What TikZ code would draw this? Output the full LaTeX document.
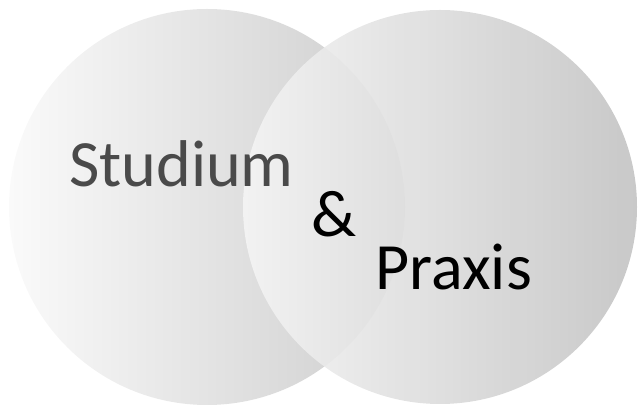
\documentclass[tikz,border=0pt]{standalone}
\usepackage{fontspec}
\setmainfont{Carlito}
\definecolor{leftlight}{HTML}{FAFAFA}
\definecolor{leftdark}{HTML}{CDCDCD}
\definecolor{rightlight}{HTML}{F4F4F4}
\definecolor{rightdark}{HTML}{C4C4C4}
\definecolor{textgrey}{HTML}{4A4A4A}
\begin{document}
\begin{tikzpicture}[x=0.025cm,y=0.025cm,
  word/.style={inner sep=0pt,anchor=base west,font=\fontsize{47}{52}\selectfont}]
\useasboundingbox (0,0) rectangle (638,407);
\shade[left color=leftlight,right color=leftdark] (207,200) circle (198);
\begin{scope}
\pgfsetfillopacity{0.92}
\shade[left color=rightlight,right color=rightdark] (440,200) circle (197);
\end{scope}
\node[word,text=textgrey] (studium) at (69,220) {Studium};
\node[word] (and) at (311,170) {\&};
\node[word] (praxis) at (375,117) {Praxis};
\end{tikzpicture}
\end{document}
